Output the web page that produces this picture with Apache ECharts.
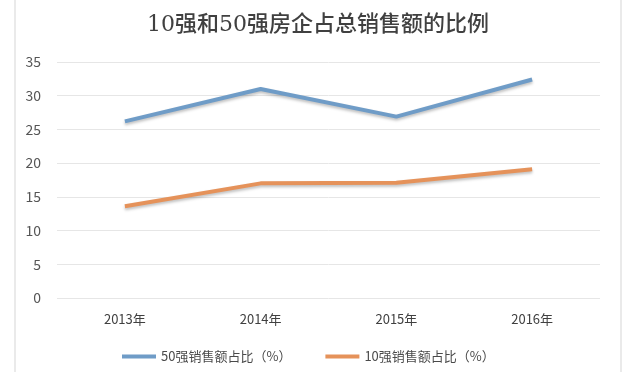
<!DOCTYPE html>
<html><head><meta charset="utf-8">
<script src="https://cdn.jsdelivr.net/npm/echarts@6/dist/echarts.min.js"></script>
<style>html,body{margin:0;padding:0;background:#fff}#c{width:636px;height:372px}</style>
</head><body><div id="c"></div>
<script>
var titleText = '10强和50强房企占总销售额的比例';
var categories = ['2013年', '2014年', '2015年', '2016年'];
var top50Name = '50强销售额占比（%）';
var top10Name = '10强销售额占比（%）';
var top50 = [26.2, 31.0, 26.9, 32.4];
var top10 = [13.6, 17.0, 17.1, 19.1];
var yTicks = { min: 0, max: 35, interval: 5 };

var chart = echarts.init(document.getElementById('c'), null, { renderer: 'canvas' });
var cjk = '"Noto Sans CJK SC", "Noto Sans", sans-serif';
chart.setOption({
  animation: false,
  backgroundColor: '#fff',
  graphic: [{
    type: 'rect', shape: { x: 15, y: -5, width: 606, height: 385 },
    style: { fill: 'none', stroke: '#e3e3e3', lineWidth: 1.5 }, silent: true, z: -1
  }],
  title: {
    text: titleText, left: 'center', top: 9,
    textStyle: { fontFamily: '"DejaVu Serif", "Noto Sans CJK SC", serif', fontSize: 22, fontWeight: 500, color: '#404040' }
  },
  grid: { left: 57, right: 36, top: 62, bottom: 74 },
  legend: {
    left: 117, top: 345, itemWidth: 34, itemHeight: 4, itemGap: 34,
    icon: 'rect',
    textStyle: { fontFamily: cjk, fontSize: 13, color: '#4a4a4a' },
    data: [top50Name, top10Name]
  },
  xAxis: {
    type: 'category', data: categories, boundaryGap: true,
    axisLine: { show: false }, axisTick: { show: false },
    axisLabel: { fontFamily: cjk, fontSize: 13, color: '#404040', margin: 15 }
  },
  yAxis: {
    type: 'value', min: yTicks.min, max: yTicks.max, interval: yTicks.interval,
    axisLine: { show: false }, axisTick: { show: false },
    axisLabel: { fontFamily: cjk, fontSize: 14, color: '#555555', margin: 16 },
    splitLine: { lineStyle: { color: '#e6e6e6', width: 1 } }
  },
  series: [
    { name: top50Name, type: 'line', data: top50, symbol: 'none',
      itemStyle: { color: '#6f9cc7' },
      lineStyle: { width: 4, color: '#6f9cc7', shadowBlur: 3, shadowColor: 'rgba(0,0,0,0.25)', shadowOffsetY: 2 } },
    { name: top10Name, type: 'line', data: top10, symbol: 'none',
      itemStyle: { color: '#e5925a' },
      lineStyle: { width: 4, color: '#e5925a', shadowBlur: 3, shadowColor: 'rgba(0,0,0,0.25)', shadowOffsetY: 2 } }
  ]
});
</script></body></html>
